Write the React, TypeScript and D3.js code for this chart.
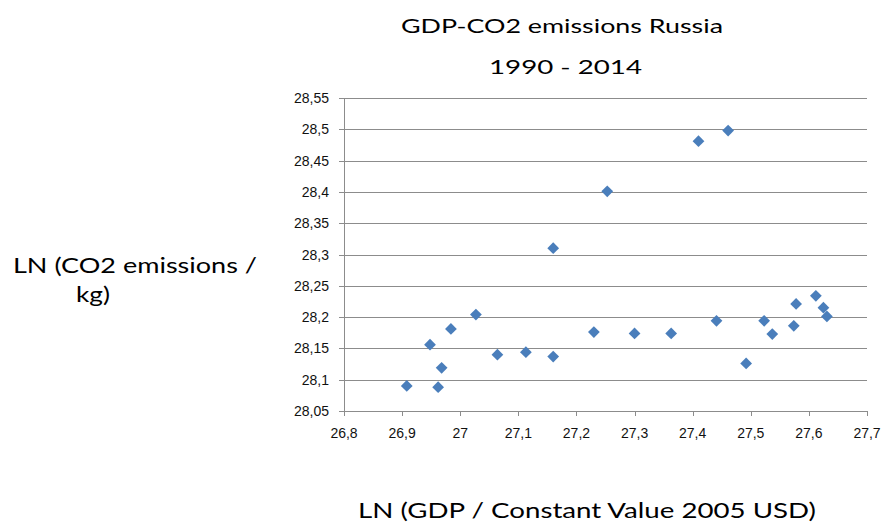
import React from "react";
import * as d3 from "d3";

const gdpLn = [26.908, 26.948, 26.962, 26.968, 26.984, 27.027, 27.064, 27.113, 27.160, 27.160, 27.253, 27.410, 27.461, 27.230, 27.300, 27.363, 27.441, 27.492, 27.523, 27.537, 27.574, 27.578, 27.612, 27.625, 27.631];
const co2Ln = [28.090, 28.156, 28.088, 28.119, 28.181, 28.204, 28.140, 28.144, 28.137, 28.310, 28.401, 28.481, 28.498, 28.176, 28.174, 28.174, 28.194, 28.126, 28.194, 28.173, 28.186, 28.221, 28.234, 28.215, 28.201];
const xTicks = [26.8, 26.9, 27, 27.1, 27.2, 27.3, 27.4, 27.5, 27.6, 27.7];
const yTicks = [28.05, 28.1, 28.15, 28.2, 28.25, 28.3, 28.35, 28.4, 28.45, 28.5, 28.55];
const titleLines = ["GDP-CO2 emissions Russia", "1990 - 2014"];
const yLabelLines = ["LN (CO2 emissions /", "kg)"];
const xLabel = "LN (GDP / Constant Value 2005 USD)";

const W = 883, H = 523;
const left = 344, right = 867, top = 98, bottom = 411;
const fmt = (v: number) => String(+v.toFixed(2)).replace(".", ",");

export default function App() {
  const x = d3.scaleLinear().domain([26.8, 27.7]).range([left, right]);
  const y = d3.scaleLinear().domain([28.05, 28.55]).range([bottom, top]);
  const diamond = d3.symbol().type((d3 as any).symbolDiamond2 || d3.symbolSquare).size(88)();
  const rot = (d3 as any).symbolDiamond2 ? 0 : 45;
  const grid = "#8c8c8c";
  const titleFont = "Lato, 'Open Sans', sans-serif";
  const tickFont = "'Liberation Sans', Arial, sans-serif";
  return (
    <svg width={W} height={H} style={{ position: "absolute", left: 0, top: 0, background: "#fff" }}>
      <rect width={W} height={H} fill="#fff" />
      {titleLines.map((t, i) => (
        <text key={t} x={i === 0 ? 401 : 489} y={i === 0 ? 33 : 74} fontFamily={titleFont} fontSize={20}
          textLength={i === 0 ? 322 : 153} lengthAdjust="spacingAndGlyphs" fill="#000">{t}</text>
      ))}
      {yLabelLines.map((t, i) => (
        <text key={t} x={i === 0 ? 13 : 76} y={i === 0 ? 273 : 302} fontFamily={titleFont} fontSize={22}
          textLength={i === 0 ? 244 : 34} lengthAdjust="spacingAndGlyphs" fill="#000">{t}</text>
      ))}
      <text x={358} y={518} fontFamily={titleFont} fontSize={22} textLength={458}
        lengthAdjust="spacingAndGlyphs" fill="#000">{xLabel}</text>
      {yTicks.map((v) => (
        <g key={v}>
          <line x1={left - 5} x2={right} y1={Math.round(y(v)) + 0.5} y2={Math.round(y(v)) + 0.5} stroke={grid} strokeWidth={1} />
          <text x={329} y={y(v)} dy="0.36em" textAnchor="end" fontFamily={tickFont} fontSize={14} fill="#111">{fmt(v)}</text>
        </g>
      ))}
      <line x1={left + 0.5} x2={left + 0.5} y1={top} y2={bottom} stroke={grid} strokeWidth={1} />
      {xTicks.map((v) => (
        <g key={v}>
          <line x1={Math.round(x(v)) + 0.5} x2={Math.round(x(v)) + 0.5} y1={bottom} y2={bottom + 5} stroke={grid} strokeWidth={1} />
          <text x={x(v)} y={438} textAnchor="middle" fontFamily={tickFont} fontSize={14} fill="#111">{fmt(v)}</text>
        </g>
      ))}
      {gdpLn.map((g, i) => (
        <path key={i} d={diamond as string} transform={`translate(${x(g)},${y(co2Ln[i])}) rotate(${rot})`} fill="#4a7ebb" />
      ))}
    </svg>
  );
}
